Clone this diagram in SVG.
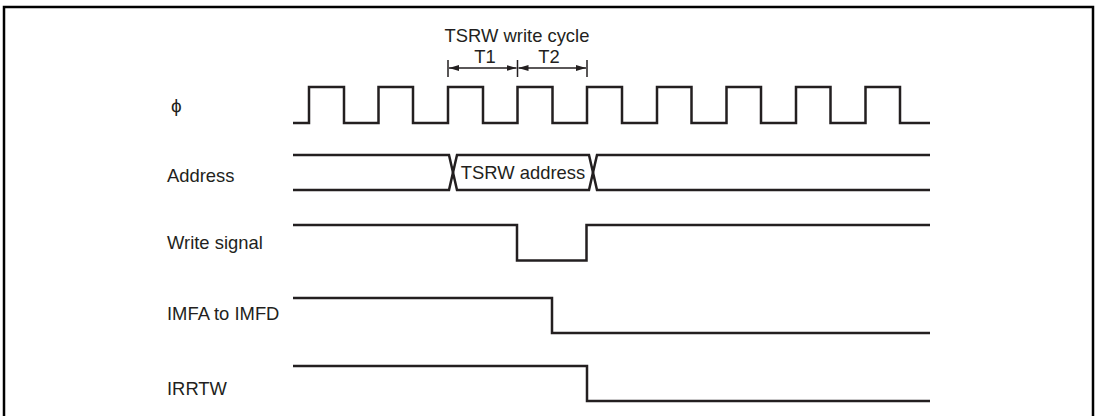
<svg xmlns="http://www.w3.org/2000/svg" width="1101" height="416" viewBox="0 0 1101 416">
<style>
.sig{fill:none;stroke:#231f20;stroke-width:2.5;stroke-linejoin:miter}
.frame{fill:none;stroke:#000;stroke-width:2.5}
.lbl{font-family:"Liberation Sans",Arial,sans-serif;font-size:18.4px;fill:#231f20}
.dim{fill:none;stroke:#231f20;stroke-width:1.5}
</style>
<defs>
<marker id="ah" viewBox="0 0 10 6" refX="10" refY="3" markerWidth="10" markerHeight="6" markerUnits="userSpaceOnUse" orient="auto-start-reverse">
<path d="M0,0 L10,3 L0,6 Z" fill="#231f20"/>
</marker>
</defs>
<rect width="1101" height="416" fill="#fff"/>
<path class="frame" d="M4,416 V7 H1093 V416"/>
<g id="labels">
<text class="lbl" x="171" y="112" style="font-size:19px">ϕ</text>
<text class="lbl" x="167" y="181.5">Address</text>
<text class="lbl" x="167" y="248.5">Write signal</text>
<text class="lbl" x="167" y="320">IMFA to IMFD</text>
<text class="lbl" x="167" y="395">IRRTW</text>
</g>
<g id="cycle-annotation">
<text class="lbl" x="517" y="41.5" text-anchor="middle">TSRW write cycle</text>
<text class="lbl" x="485" y="63" text-anchor="middle">T1</text>
<text class="lbl" x="549" y="63" text-anchor="middle">T2</text>
<path class="dim" d="M448,60 V77 M517.5,60 V77 M587,60 V77"/>
</g>
<g id="connectors">
<line class="dim" x1="449" y1="68" x2="516.5" y2="68" marker-start="url(#ah)" marker-end="url(#ah)"/>
<line class="dim" x1="518.5" y1="68" x2="586" y2="68" marker-start="url(#ah)" marker-end="url(#ah)"/>
</g>
<g id="clock">
<path class="sig" d="M293,123 H309 V87 H344 V123 H378.5 V87 H413 V123 H448 V87 H483 V123 H517.5 V87 H552.5 V123 H587 V87 H622 V123 H657 V87 H691.5 V123 H726.5 V87 H761 V123 H796 V87 H830.5 V123 H865.5 V87 H900 V123 H930"/>
</g>
<g id="address">
<path class="sig" d="M293,155 H449 L457,190 H589 L597,155 H930"/>
<path class="sig" d="M293,190 H449 L457,155 H589 L597,190 H930"/>
<text class="lbl" x="523" y="179" text-anchor="middle">TSRW address</text>
</g>
<g id="write-signal">
<path class="sig" d="M293,225 H517 V260.5 H586.5 V225 H930"/>
</g>
<g id="imfa-imfd">
<path class="sig" d="M293,298 H552 V333 H930"/>
</g>
<g id="irrtw">
<path class="sig" d="M293,366 H587 V401 H930"/>
</g>
</svg>
